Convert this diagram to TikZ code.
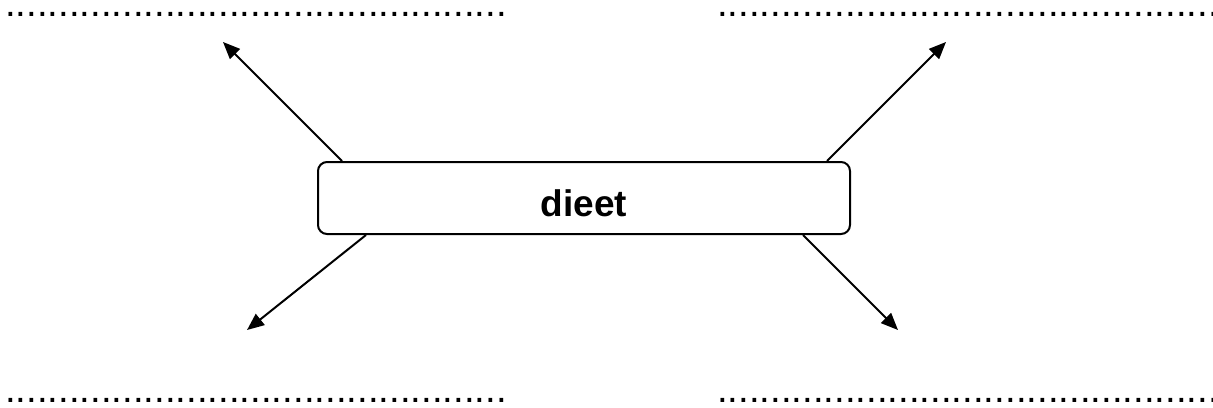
\documentclass[tikz,border=0pt]{standalone}
\usepackage{fontspec}
\setmainfont{Liberation Sans}
\usetikzlibrary{calc}
\usetikzlibrary{arrows.meta}
\newcommand\puntjes{...............................................}
\tikzset{
	>={Triangle[length=8.5pt,width=7pt]},
	kernbox/.style={
		rectangle,
		rounded corners=4.5pt,
		draw=black, line width=1pt,
		minimum width=266pt,
		minimum height=36pt,
		text height=18pt, text depth=0pt,
		font=\fontsize{18.5}{22}\selectfont\bfseries},
	pijl/.style={draw, line width=1pt, ->},
	stippel/.style={anchor=base west, inner sep=0pt, font=\fontsize{19.2}{22}\selectfont},
}
\begin{document}
\begin{tikzpicture}[x=0.5pt,y=-0.5pt]
	\useasboundingbox (0,0) rectangle (1213,407);
	\node[kernbox] (dieet) at (584,198) {dieet};
	% invulregels
	\node[stippel] (lb) at (4.7,16.9) {\puntjes};
	\node[stippel] (rb) at (716.7,16.9) {\puntjes};
	\node[stippel] (lo) at (4.7,402.9) {\puntjes};
	\node[stippel] (ro) at (716.7,402.9) {\puntjes};
	% pijlpunten
	\coordinate (plb) at (223,42);
	\coordinate (prb) at (946,42);
	\coordinate (plo) at (247,330);
	\coordinate (pro) at (898,330);
	\draw[pijl] ($(dieet.north west)+(25,0)$) -- (plb);
	\draw[pijl] ($(dieet.north east)+(-24,0)$) -- (prb);
	\draw[pijl] ($(dieet.south west)+(49,0)$) -- (plo);
	\draw[pijl] ($(dieet.south east)+(-48,0)$) -- (pro);
\end{tikzpicture}
\end{document}
